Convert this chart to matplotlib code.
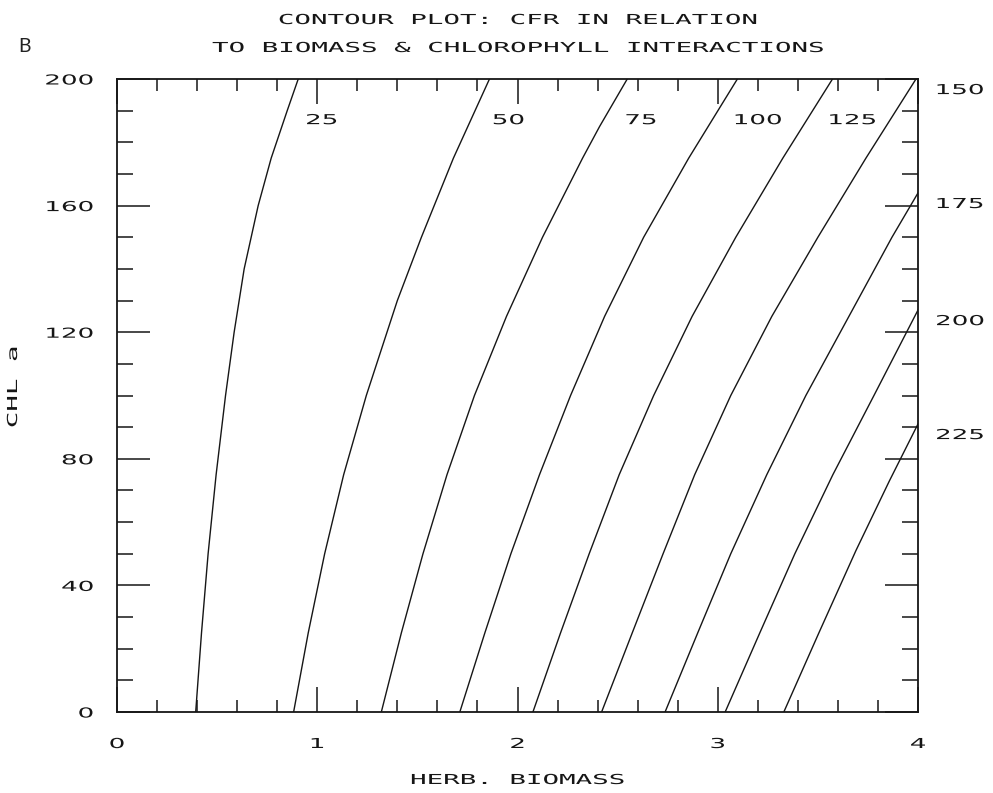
import numpy as np
import matplotlib
matplotlib.use("Agg")
import matplotlib.pyplot as plt
from matplotlib.ticker import MultipleLocator
from matplotlib.patheffects import AbstractPathEffect
from matplotlib.transforms import Affine2D

# ---- data: CFR contour levels, each traced as (biomass, chlorophyll) points ----
levels = [25, 50, 75, 100, 125, 150, 175, 200, 225]

chl_25 = [0, 25, 50, 75, 100, 120, 140, 160, 175, 190, 200]
bio_25 = [0.393, 0.422, 0.455, 0.495, 0.542, 0.585, 0.635, 0.705, 0.770, 0.850, 0.905]

chl_50 = [0, 25, 50, 75, 100, 130, 150, 175, 200]
bio_50 = [0.882, 0.955, 1.037, 1.132, 1.245, 1.400, 1.520, 1.680, 1.860]

chl_75 = [0, 25, 50, 75, 100, 125, 150, 175, 185, 200]
bio_75 = [1.320, 1.420, 1.528, 1.648, 1.785, 1.945, 2.125, 2.325, 2.410, 2.548]

chl_100 = [0, 25, 50, 75, 100, 125, 150, 175, 200]
bio_100 = [1.712, 1.837, 1.967, 2.110, 2.265, 2.435, 2.630, 2.855, 3.098]

chl_125 = [0, 25, 50, 75, 100, 125, 150, 175, 200]
bio_125 = [2.077, 2.215, 2.358, 2.508, 2.680, 2.872, 3.090, 3.325, 3.573]

chl_150 = [0, 25, 50, 75, 100, 125, 150, 175, 200]
bio_150 = [2.420, 2.573, 2.727, 2.885, 3.065, 3.270, 3.500, 3.740, 3.990]

chl_175 = [0, 25, 50, 75, 100, 125, 150, 164]
bio_175 = [2.737, 2.900, 3.065, 3.245, 3.440, 3.655, 3.870, 4.000]

chl_200 = [0, 25, 50, 75, 100, 127]
bio_200 = [3.037, 3.210, 3.385, 3.575, 3.780, 4.000]

chl_225 = [0, 25, 51, 73, 91]
bio_225 = [3.330, 3.505, 3.690, 3.857, 4.000]

contours = {
    25: (bio_25, chl_25), 50: (bio_50, chl_50), 75: (bio_75, chl_75),
    100: (bio_100, chl_100), 125: (bio_125, chl_125), 150: (bio_150, chl_150),
    175: (bio_175, chl_175), 200: (bio_200, chl_200), 225: (bio_225, chl_225),
}

x_ticks = [0, 1, 2, 3, 4]
y_ticks = [0, 40, 80, 120, 160, 200]

title_lines = ["CONTOUR PLOT: CFR IN RELATION", "TO BIOMASS & CHLOROPHYLL INTERACTIONS"]
x_title = "HERB. BIOMASS"
y_title = "CHL a"
panel_tag = "B"


class Spread(AbstractPathEffect):
    """Widen glyph outlines along the text direction (plotter-style lettering)."""

    def __init__(self, factor=2.0, anchor="center", vertical=False):
        super().__init__()
        self.factor = factor
        self.anchor = anchor
        self.vertical = vertical

    def draw_path(self, renderer, gc, tpath, affine, rgbFace=None):
        ext = tpath.get_extents(affine)
        if self.vertical:
            c = 0.5 * (ext.y0 + ext.y1)
            extra = Affine2D().translate(0, -c).scale(1, self.factor).translate(0, c)
        else:
            c = {"left": ext.x0, "right": ext.x1,
                 "center": 0.5 * (ext.x0 + ext.x1)}[self.anchor]
            extra = Affine2D().translate(-c, 0).scale(self.factor, 1).translate(c, 0)
        renderer.draw_path(gc, tpath, affine + extra, rgbFace)


INK = "#161616"
MONO = "DejaVu Sans Mono"
DIGITS = "DejaVu Sans"
FS = 9.9

fig = plt.figure(figsize=(9.93, 7.93), dpi=100)
W, H = 993, 793
ax = fig.add_axes([117 / W, 81 / H, 801 / W, 633 / H])

for lvl in levels:
    xs, ys = contours[lvl]
    ax.plot(xs, ys, color=INK, lw=1.0, solid_joinstyle="round")

ax.set_xlim(0, 4)
ax.set_ylim(0, 200)
ax.set_xticks(x_ticks)
ax.set_yticks(y_ticks)
ax.xaxis.set_minor_locator(MultipleLocator(0.2))
ax.yaxis.set_minor_locator(MultipleLocator(10))
ax.tick_params(which="both", direction="in", top=True, right=True,
               width=1.1, color=INK, labelcolor=INK)
ax.tick_params(axis="x", which="major", length=18, pad=18, labelsize=FS)
ax.tick_params(axis="x", which="minor", length=8.8)
ax.tick_params(axis="y", which="major", length=23.5, pad=17, labelsize=FS)
ax.tick_params(axis="y", which="minor", length=11.5)
for sp in ax.spines.values():
    sp.set_linewidth(1.3)
    sp.set_color(INK)

for lbl in ax.get_xticklabels():
    lbl.set_fontfamily(DIGITS)
    lbl.set_path_effects([Spread(1.9, "center")])
for lbl in ax.get_yticklabels():
    lbl.set_fontfamily(DIGITS)
    lbl.set_path_effects([Spread(1.9, "right")])

# contour labels: along the top edge, or beside the right edge
for lvl in levels:
    xs, ys = contours[lvl]
    if max(xs) >= 3.98:
        ax.text(4.09, ys[-1] - 3.5, str(lvl), ha="left", va="center",
                fontsize=FS, family=DIGITS, color=INK, clip_on=False,
                path_effects=[Spread(1.9, "left")])
    else:
        xl = np.interp(187, ys, xs) + 0.11
        ax.text(xl, 187, str(lvl), ha="left", va="center",
                fontsize=FS, family=DIGITS, color=INK,
                path_effects=[Spread(1.9, "left")])

ax.set_xlabel(x_title, fontsize=FS, family=MONO, color=INK,
              path_effects=[Spread(2.0, "center")])
ax.xaxis.label.set_va("center")
ax.xaxis.set_label_coords(0.5, (712 - 780) / 633)

ax.set_ylabel(y_title, fontsize=FS, family=MONO, color=INK,
              path_effects=[Spread(2.0, vertical=True)])
ax.yaxis.label.set_va("center")
ax.yaxis.set_label_coords((13 - 117) / 801, (712 - 387) / 633)

for i, line in enumerate(title_lines):
    fig.text(517.5 / W, 1 - (20 + 28 * i) / H, line, ha="center", va="center",
             fontsize=FS, family=MONO, color=INK,
             path_effects=[Spread(2.0, "center")])

fig.text(25 / W, 1 - 47 / H, panel_tag, ha="center", va="center",
         fontsize=14, family="Lato", color="#222222")

fig.savefig("out.png", dpi=100, facecolor="white")
